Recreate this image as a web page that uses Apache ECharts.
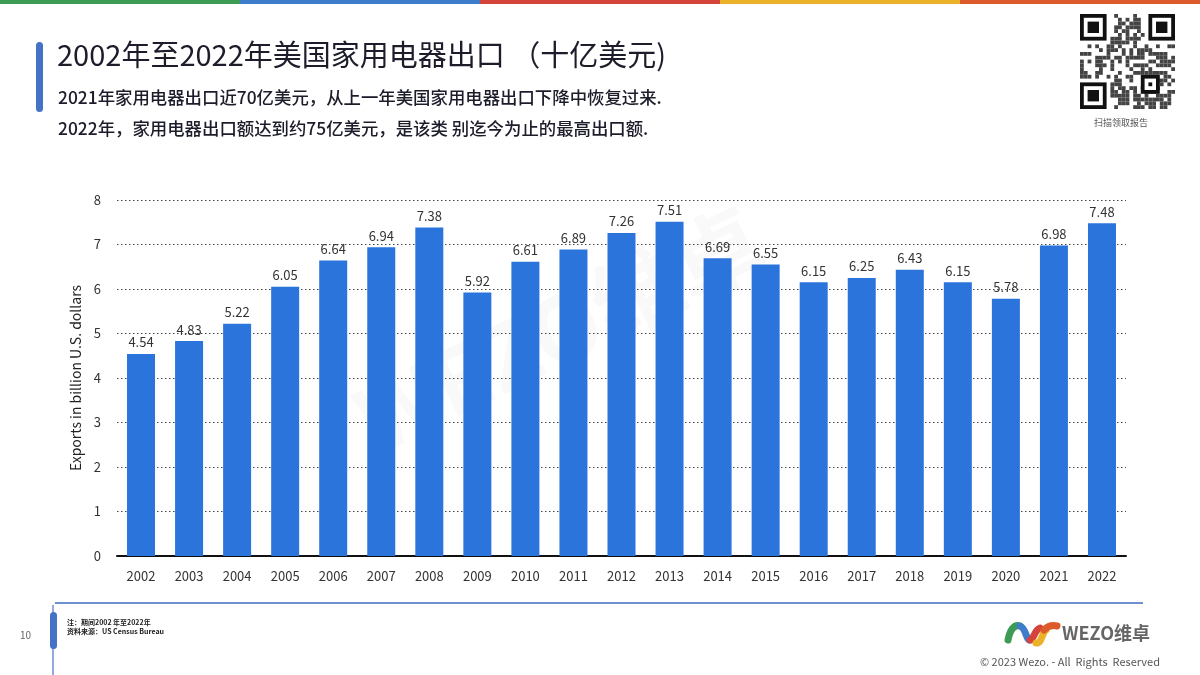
<!DOCTYPE html>
<html><head><meta charset="utf-8">
<script src="https://cdn.jsdelivr.net/npm/echarts@6/dist/echarts.min.js"></script>
<style>html,body{margin:0;padding:0;background:#fff}#c{width:1200px;height:675px}</style>
</head><body><div id="c"></div>
<script>
const years = ['2002','2003','2004','2005','2006','2007','2008','2009','2010','2011','2012','2013','2014','2015','2016','2017','2018','2019','2020','2021','2022'];
const exportsBn = [4.54,4.83,5.22,6.05,6.64,6.94,7.38,5.92,6.61,6.89,7.26,7.51,6.69,6.55,6.15,6.25,6.43,6.15,5.78,6.98,7.48];
const yTicks = {min:0, max:8, interval:1};
const titleText = '2002年至2022年美国家用电器出口 （十亿美元)';
const subtitle1 = '2021年家用电器出口近70亿美元，从上一年美国家用电器出口下降中恢复过来.';
const subtitle2 = '2022年，家用电器出口额达到约75亿美元，是该类 别迄今为止的最高出口额.';
const yAxisName = 'Exports in billion U.S. dollars';
const noteLines = ['注：期间2002 年至2022年','资料来源：US Census Bureau'];

const CJK = '"Noto Sans CJK SC","Noto Sans",sans-serif';
const LAT = '"Liberation Sans Narrow","Noto Sans CJK SC",sans-serif';

// decorative graphics
const g = [];
const stripe = ['#3d9b55','#3f7dca','#d4443a','#ecb12b','#dc5a2b'];
stripe.forEach((c,i)=>g.push({type:'rect',shape:{x:i*240,y:0,width:240,height:4},style:{fill:c}}));
g.push({type:'rect',shape:{x:36,y:42,width:7,height:70,r:3.5},style:{fill:'#4472c4'}});
g.push({type:'text',left:57,top:40,style:{text:titleText,font:'29px '+CJK,fill:'#1c1c2a'}});
g.push({type:'text',left:58,top:89,style:{text:subtitle1,font:'500 17.4px '+CJK,fill:'#1c1c2a'}});
g.push({type:'text',left:58,top:120,style:{text:subtitle2,font:'500 17.4px '+CJK,fill:'#1c1c2a'}});
// QR-like decoration
(function(){
  const x0=1080,y0=14,n=25,s=3.8;
  let seed=12345;
  function rnd(){seed=(seed*1103515245+12345)&0x7fffffff;return seed/0x7fffffff;}
  function finder(fx,fy){
    g.push({type:'rect',shape:{x:x0+fx*s,y:y0+fy*s,width:7*s,height:7*s},style:{fill:'#111'}});
    g.push({type:'rect',shape:{x:x0+(fx+1)*s,y:y0+(fy+1)*s,width:5*s,height:5*s},style:{fill:'#fff'}});
    g.push({type:'rect',shape:{x:x0+(fx+2)*s,y:y0+(fy+2)*s,width:3*s,height:3*s},style:{fill:'#111'}});
  }
  for(let r=0;r<n;r++)for(let c=0;c<n;c++){
    const inF=(r<8&&c<8)||(r<8&&c>=n-8)||(r>=n-8&&c<8);
    if(inF)continue;
    if(rnd()<0.5)g.push({type:'rect',shape:{x:x0+c*s,y:y0+r*s,width:s,height:s},style:{fill:'#444'}});
  }
  finder(0,0);finder(n-7,0);finder(0,n-7);
  g.push({type:'rect',shape:{x:x0+16*s,y:y0+16*s,width:5*s,height:5*s},style:{fill:'#111'}});
  g.push({type:'rect',shape:{x:x0+17*s,y:y0+17*s,width:3*s,height:3*s},style:{fill:'#fff'}});
  g.push({type:'rect',shape:{x:x0+18*s,y:y0+18*s,width:s,height:s},style:{fill:'#111'}});
  g.push({type:'text',left:1094,top:118,style:{text:'扫描领取报告',font:'9px '+CJK,fill:'#555'}});
})();
// watermark
g.push({type:'text',x:560,y:330,rotation:0.45,style:{text:'WEZO维卓',font:'bold 90px '+LAT,fill:'rgba(0,0,0,0.025)',align:'center',verticalAlign:'middle'}});
// footer
g.push({type:'line',shape:{x1:55,y1:603,x2:1143,y2:603},style:{stroke:'#6f8fcf',lineWidth:2}});
g.push({type:'line',shape:{x1:53,y1:605,x2:53,y2:675},style:{stroke:'#6f8fcf',lineWidth:1.5}});
g.push({type:'rect',shape:{x:50,y:612,width:7,height:37,r:3.5},style:{fill:'#4472c4'}});
g.push({type:'text',left:20,top:630,style:{text:'10',font:'10px '+LAT,fill:'#666'}});
g.push({type:'text',left:67,top:618,style:{text:noteLines[0]+'\n'+noteLines[1],font:'bold 7px '+CJK,fill:'#222',lineHeight:9}});
// logo
const sw=[['#3d9b55',{x1:1008,y1:640,x2:1020,y2:626,cpx1:1010,cpy1:630,cpx2:1014,cpy2:624}],
          ['#3f7dca',{x1:1020,y1:626,x2:1030,y2:640,cpx1:1026,cpy1:628,cpx2:1026,cpy2:640}],
          ['#d4443a',{x1:1030,y1:640,x2:1040,y2:628,cpx1:1034,cpy1:640,cpx2:1034,cpy2:630}],
          ['#ecb12b',{x1:1036,y1:643,x2:1046,y2:630,cpx1:1042,cpy1:644,cpx2:1042,cpy2:632}],
          ['#dc5a2b',{x1:1044,y1:630,x2:1057,y2:626,cpx1:1048,cpy1:626,cpx2:1053,cpy2:625}]];
sw.forEach(([c,sh])=>g.push({type:'bezierCurve',shape:sh,style:{stroke:c,lineWidth:7,lineCap:'round',fill:null}}));
g.push({type:'text',left:1062,top:624,style:{text:'WEZO维卓',font:'bold 18px '+LAT,fill:'#666'}});
g.push({type:'text',left:980,top:656,style:{text:'© 2023 Wezo. - All  Rights  Reserved',font:'11px '+LAT,fill:'#555'}});

const chart = echarts.init(document.getElementById('c'),null,{renderer:'canvas'});
chart.setOption({
  animation:false,
  backgroundColor:'#fff',
  grid:{left:117,right:74,top:200,bottom:119,containLabel:false},
  xAxis:{type:'category',data:years,
    axisLine:{lineStyle:{color:'#111',width:2}},axisTick:{show:false},
    axisLabel:{color:'#333',fontSize:13,fontFamily:LAT,margin:14}},
  yAxis:{type:'value',min:yTicks.min,max:yTicks.max,interval:yTicks.interval,
    name:yAxisName,nameLocation:'middle',nameGap:27,
    nameTextStyle:{color:'#222',fontSize:14,fontFamily:LAT},
    axisLine:{show:false},axisTick:{show:false},
    axisLabel:{color:'#333',fontSize:13,fontFamily:LAT,margin:16},
    splitLine:{lineStyle:{color:'#444',type:[1.5,2.5],width:1}}},
  series:[{type:'bar',data:exportsBn,barWidth:28,
    itemStyle:{color:'#2b74dc'},
    label:{show:true,position:'top',distance:5,color:'#333',fontSize:13,fontFamily:LAT,formatter:p=>p.value.toFixed(2)}}],
  graphic:g
});
</script></body></html>
